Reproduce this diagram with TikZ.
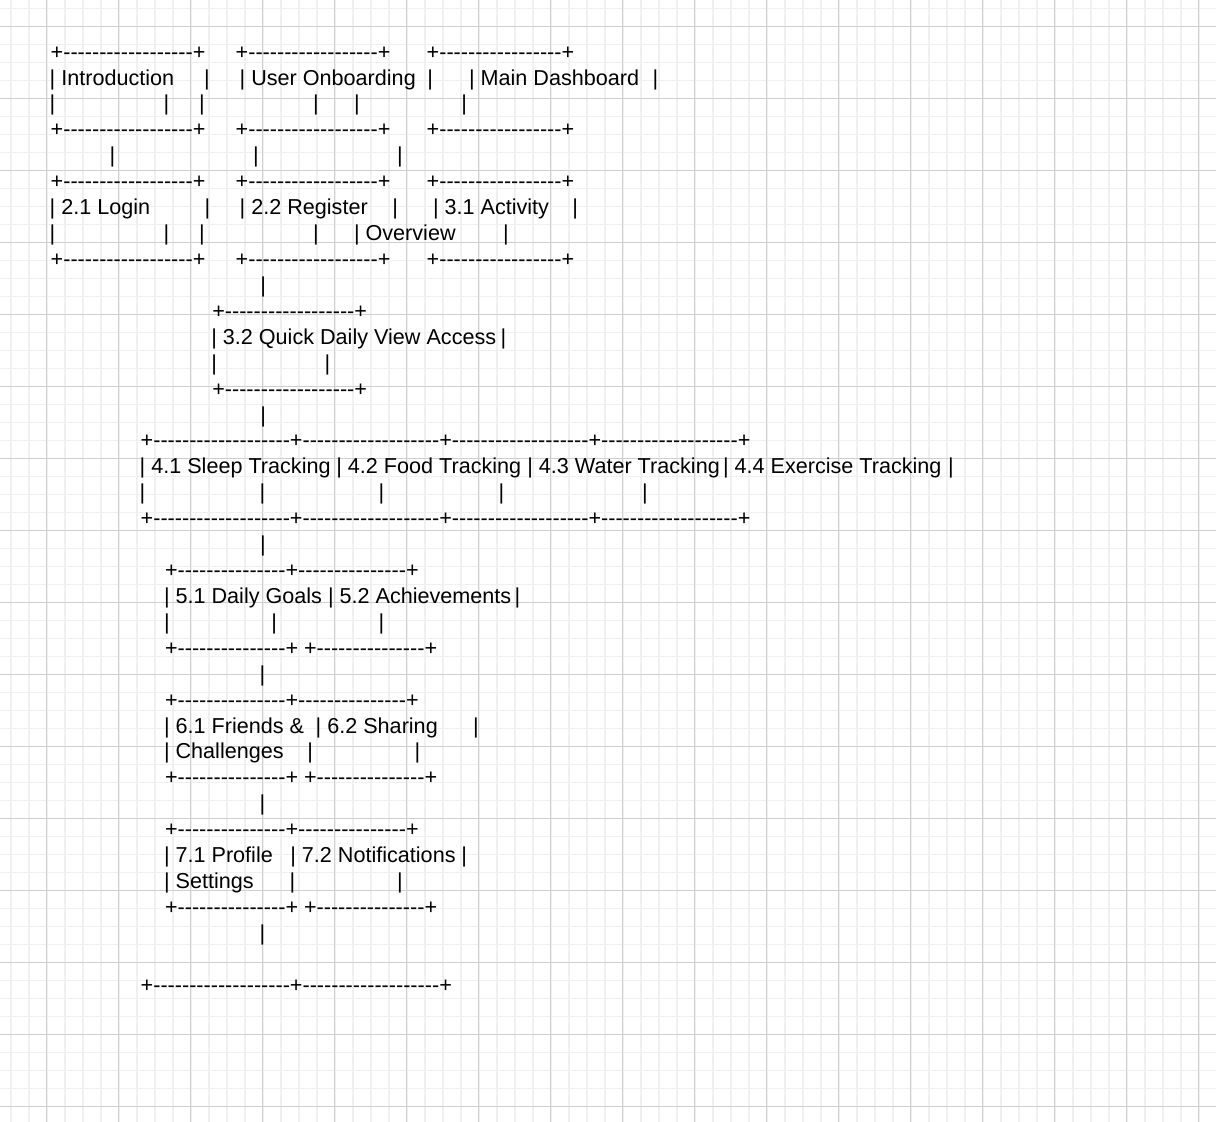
\documentclass[tikz,border=0pt]{standalone}
\usepackage{fontspec}
\newfontfamily\asc{Liberation Sans}
\newcommand\dsh[1]{\foreach\i in {1,...,#1}{-\kern0pt}}
\begin{document}
\begin{tikzpicture}[x=1pt,y=-1pt,
  minor/.style={draw=black!6, line width=1.6pt},
  major/.style={draw=black!19, line width=1pt},
  t/.style={font=\asc\fontsize{21.6}{25.92}\selectfont, inner sep=0pt, outer sep=0pt, anchor=base west, text=black}]
\useasboundingbox (0,0) rectangle (1216,1122);
\fill[white] (0,0) rectangle (1216,1122);
\foreach \k in {0,...,67} \draw[minor] ({10.7+18*\k},0) -- ({10.7+18*\k},1122);
\foreach \k in {0,...,62} \draw[minor] (0,{8.3+18*\k}) -- (1216,{8.3+18*\k});
\foreach \k in {0,...,16} \draw[major] ({46.7+72*\k},0) -- ({46.7+72*\k},1122);
\foreach \k in {0,...,15} \draw[major] (0,{26.3+72*\k}) -- (1216,{26.3+72*\k});
% row 0
\node[t] (r0a) at (50.7,59.1) {+\dsh{18}+};
\node[t] (r0b) at (235.7,59.1) {+\dsh{18}+};
\node[t] (r0c) at (426.7,59.1) {+\dsh{17}+};
% row 1
\node[t] (r1a) at (49.7,85.0) {| Introduction};
\node[t] (r1b) at (204.0,85.0) {|};
\node[t] (r1c) at (239.7,85.0) {| User Onboarding};
\node[t] (r1d) at (427.3,85.0) {|};
\node[t] (r1e) at (469.0,85.0) {| Main Dashboard};
\node[t] (r1f) at (652.5,85.0) {|};
% row 2
\node[t] (r2a) at (49.7,110.9) {|};
\node[t] (r2b) at (163.7,110.9) {|};
\node[t] (r2c) at (199.0,110.9) {|};
\node[t] (r2d) at (313.0,110.9) {|};
\node[t] (r2e) at (354.0,110.9) {|};
\node[t] (r2f) at (461.3,110.9) {|};
% row 3
\node[t] (r3a) at (50.7,136.9) {+\dsh{18}+};
\node[t] (r3b) at (235.7,136.9) {+\dsh{18}+};
\node[t] (r3c) at (426.7,136.9) {+\dsh{17}+};
% row 4
\node[t] (r4a) at (109.7,162.8) {|};
\node[t] (r4b) at (253.0,162.8) {|};
\node[t] (r4c) at (397.0,162.8) {|};
% row 5
\node[t] (r5a) at (50.7,188.7) {+\dsh{18}+};
\node[t] (r5b) at (235.7,188.7) {+\dsh{18}+};
\node[t] (r5c) at (426.7,188.7) {+\dsh{17}+};
% row 6
\node[t] (r6a) at (49.7,214.6) {| 2.1 Login};
\node[t] (r6b) at (204.7,214.6) {|};
\node[t] (r6c) at (239.7,214.6) {| 2.2 Register};
\node[t] (r6d) at (392.3,214.6) {|};
\node[t] (r6e) at (433.0,214.6) {| 3.1 Activity};
\node[t] (r6f) at (572.3,214.6) {|};
% row 7
\node[t] (r7a) at (49.7,240.5) {|};
\node[t] (r7b) at (163.7,240.5) {|};
\node[t] (r7c) at (199.0,240.5) {|};
\node[t] (r7d) at (313.0,240.5) {|};
\node[t] (r7e) at (354.0,240.5) {| Overview};
\node[t] (r7f) at (503.0,240.5) {|};
% row 8
\node[t] (r8a) at (50.7,266.5) {+\dsh{18}+};
\node[t] (r8b) at (235.7,266.5) {+\dsh{18}+};
\node[t] (r8c) at (426.7,266.5) {+\dsh{17}+};
% row 9
\node[t] (r9a) at (260.3,292.4) {|};
% row 10-13
\node[t] (r10a) at (212.3,318.3) {+\dsh{18}+};
\node[t] (r11a) at (211.3,344.2) {| 3.2 Quick Daily View Access};
\node[t] (r11b) at (500.7,344.2) {|};
\node[t] (r12a) at (211.3,370.1) {|};
\node[t] (r12b) at (324.7,370.1) {|};
\node[t] (r13a) at (212.3,396.1) {+\dsh{18}+};
% row 14
\node[t] (r14a) at (260.3,422.0) {|};
% row 15-18
\node[t] (r15a) at (140.7,447.9) {+\dsh{19}+\dsh{19}+\dsh{19}+\dsh{19}+};
\node[t] (r16a) at (139.7,473.8) {| 4.1 Sleep Tracking};
\node[t] (r16b) at (336.3,473.8) {| 4.2 Food Tracking};
\node[t] (r16c) at (527.3,473.8) {| 4.3 Water Tracking};
\node[t] (r16d) at (723.0,473.8) {| 4.4 Exercise Tracking};
\node[t] (r16e) at (948.0,473.8) {|};
\node[t] (r17a) at (139.7,499.7) {|};
\node[t] (r17b) at (259.7,499.7) {|};
\node[t] (r17c) at (378.7,499.7) {|};
\node[t] (r17d) at (498.7,499.7) {|};
\node[t] (r17e) at (642.0,499.7) {|};
\node[t] (r18a) at (140.7,525.7) {+\dsh{19}+\dsh{19}+\dsh{19}+\dsh{19}+};
% row 19
\node[t] (r19a) at (260.0,551.6) {|};
% row 20-23
\node[t] (r20a) at (165.0,577.5) {+\dsh{15}+\dsh{15}+};
\node[t] (r21a) at (164.0,603.4) {| 5.1 Daily Goals};
\node[t] (r21b) at (328.0,603.4) {| 5.2 Achievements};
\node[t] (r21c) at (514.7,603.4) {|};
\node[t] (r22a) at (164.0,629.3) {|};
\node[t] (r22b) at (271.3,629.3) {|};
\node[t] (r22c) at (378.7,629.3) {|};
\node[t] (r23a) at (165.0,655.3) {+\dsh{15}+};
\node[t] (r23b) at (304.0,655.3) {+\dsh{15}+};
% row 24
\node[t] (r24a) at (259.7,681.2) {|};
% row 25-28
\node[t] (r25a) at (165.0,707.1) {+\dsh{15}+\dsh{15}+};
\node[t] (r26a) at (164.0,733.0) {| 6.1 Friends \&};
\node[t] (r26b) at (315.7,733.0) {| 6.2 Sharing};
\node[t] (r26c) at (473.0,733.0) {|};
\node[t] (r27a) at (164.0,758.9) {| Challenges};
\node[t] (r27b) at (307.3,758.9) {|};
\node[t] (r27c) at (414.7,758.9) {|};
\node[t] (r28a) at (165.0,784.9) {+\dsh{15}+};
\node[t] (r28b) at (304.0,784.9) {+\dsh{15}+};
% row 29
\node[t] (r29a) at (259.7,810.8) {|};
% row 30-33
\node[t] (r30a) at (165.0,836.7) {+\dsh{15}+\dsh{15}+};
\node[t] (r31a) at (164.0,862.6) {| 7.1 Profile};
\node[t] (r31b) at (290.3,862.6) {| 7.2 Notifications};
\node[t] (r31c) at (461.3,862.6) {|};
\node[t] (r32a) at (164.0,888.5) {| Settings};
\node[t] (r32b) at (289.7,888.5) {|};
\node[t] (r32c) at (397.0,888.5) {|};
\node[t] (r33a) at (165.0,914.5) {+\dsh{15}+};
\node[t] (r33b) at (304.0,914.5) {+\dsh{15}+};
% row 34
\node[t] (r34a) at (259.7,940.4) {|};
% row 36
\node[t] (r36a) at (140.7,992.2) {+\dsh{19}+\dsh{19}+};
\end{tikzpicture}
\end{document}
